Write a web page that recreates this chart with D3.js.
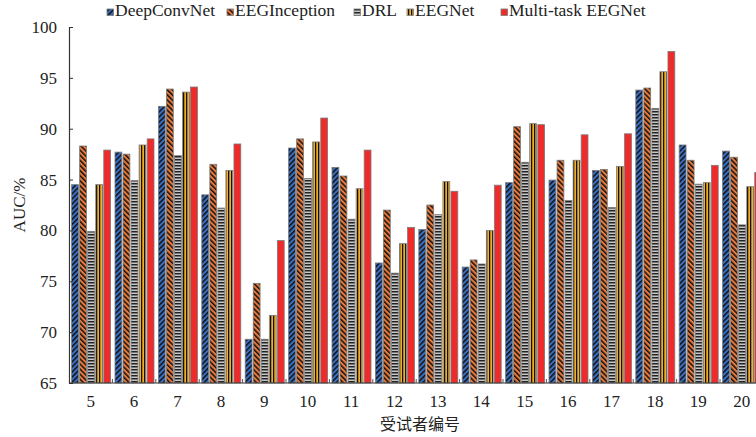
<!DOCTYPE html>
<html><head><meta charset="utf-8">
<script src="https://cdn.jsdelivr.net/npm/d3@7"></script>
<style>body{margin:0;background:#fff}svg{display:block}</style>
</head><body>
<svg id="c" width="756" height="437"></svg>
<script>
const subjects = ["5","6","7","8","9","10","11","12","13","14","15","16","17","18","19","20"];
const seriesNames = ["DeepConvNet","EEGInception","DRL","EEGNet","Multi-task EEGNet"];
const deepConvNet = [84.5,87.7,92.2,83.5,69.3,88.1,86.2,76.8,80.1,76.4,84.7,84.95,85.9,93.8,88.4,87.8];
const eegInception = [88.3,87.5,93.9,86.5,74.8,89.0,85.35,82.0,82.5,77.1,90.2,86.9,86.0,94.0,86.9,87.2];
const drl = [79.9,84.9,87.35,82.2,69.3,85.1,81.1,75.8,81.55,76.7,86.7,82.95,82.25,92.0,84.55,80.55];
const eegNet = [84.5,88.4,93.6,85.9,71.65,88.7,84.1,78.7,84.8,80.0,90.5,86.9,86.3,95.6,84.7,84.3];
const multiTask = [87.9,89.0,94.1,88.5,79.0,91.05,87.9,80.3,83.85,84.45,90.4,89.4,89.5,97.6,86.4,85.7];
const yTicks = [65,70,75,80,85,90,95,100];
const seriesValues = [deepConvNet, eegInception, drl, eegNet, multiTask];

const svg = d3.select("#c");
const font = "'Liberation Serif','Times New Roman',serif";
const defs = svg.append("defs");

function pat(id, bg, fg, rot, w, lw, orient) {
  const p = defs.append("pattern").attr("id", id).attr("patternUnits","userSpaceOnUse")
    .attr("width", w).attr("height", w);
  if (rot) p.attr("patternTransform", `rotate(${rot})`);
  p.append("rect").attr("width", w).attr("height", w).attr("fill", bg);
  if (fg) {
    if (orient === "h") p.append("rect").attr("x",0).attr("y",0).attr("width",w).attr("height",lw).attr("fill",fg);
    else p.append("rect").attr("x",0).attr("y",0).attr("width",lw).attr("height",w).attr("fill",fg);
  }
}
pat("p0", "#3b6fc2", "#111", 45, 3.6, 1.5, "v");
pat("p1", "#e8793a", "#111", -45, 3.6, 1.5, "v");
pat("p2", "#c8c8c8", "#222", 0, 3, 1.5, "h");
pat("p3", "#f2b02a", "#111", 0, 3, 1.3, "v");
pat("p4", "#ee2b2b", null, 0, 4, 0, "v");

const y = d3.scaleLinear().domain([65,100]).range([383,27]);
const x0 = d3.scaleBand().domain(subjects).range([69, 69 + 16*43.4]).padding(0);
const x1 = d3.scaleBand().domain(seriesNames).range([2.6, 41.6]).paddingInner(0.15);

// bars
const g = svg.append("g");
subjects.forEach((s, i) => {
  seriesNames.forEach((n, j) => {
    const v = seriesValues[j][i];
    g.append("rect")
      .attr("x", x0(s) + x1(n))
      .attr("y", y(v))
      .attr("width", x1.bandwidth())
      .attr("height", y(65) - y(v))
      .attr("fill", `url(#p${j})`)
      .attr("stroke", "#7a7a7a")
      .attr("stroke-width", 0.8);
  });
});

// y axis
const ya = svg.append("g").attr("transform","translate(69,0)")
  .call(d3.axisLeft(y).tickValues(yTicks).tickSize(-4).tickSizeOuter(0).tickPadding(12));
ya.select(".domain").attr("stroke","#333").attr("stroke-width",1.2);
ya.selectAll(".tick line").attr("stroke","#333");
ya.selectAll("text").attr("font-family",font).attr("font-size",17).attr("fill","#222");

// x axis
const xa = svg.append("g").attr("transform","translate(0,383)")
  .call(d3.axisBottom(x0).tickSize(0).tickPadding(12));
xa.select(".domain").attr("d", "M69,0H756").attr("stroke","#333").attr("stroke-width",1.2);
xa.selectAll("text").attr("font-family",font).attr("font-size",17).attr("fill","#222");
// boundary ticks
svg.append("g").selectAll("line").data(subjects.slice(1)).join("line")
  .attr("x1", d => x0(d)).attr("x2", d => x0(d))
  .attr("y1", 383).attr("y2", 379).attr("stroke","#555").attr("stroke-width",1);

// axis titles
svg.append("text").attr("transform","translate(25,205) rotate(-90)")
  .attr("text-anchor","middle").attr("font-family",font).attr("font-size",17).attr("fill","#222")
  .text("AUC/%");
svg.append("text").attr("x",420).attr("y",430).attr("text-anchor","middle")
  .attr("font-family","'Noto Sans CJK SC','Noto Serif CJK SC',serif").attr("font-size",16).attr("fill","#222")
  .text("受试者编号");

// legend
const legX = [107, 227, 354, 407, 501];
const leg = svg.append("g");
seriesNames.forEach((n, j) => {
  leg.append("rect").attr("x", legX[j]).attr("y", 9).attr("width", 6.5).attr("height", 6.5)
    .attr("fill", `url(#p${j})`).attr("stroke", "#7a7a7a").attr("stroke-width", 0.8);
  leg.append("text").attr("x", legX[j] + 8).attr("y", 16)
    .attr("font-family", font).attr("font-size", 17.5).attr("fill", "#222").text(n);
});
</script>
</body></html>
